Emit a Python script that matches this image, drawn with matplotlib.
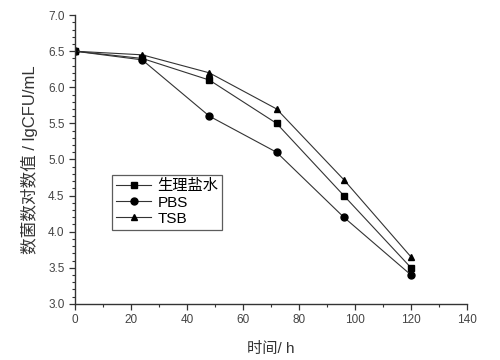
import matplotlib
matplotlib.use("Agg")
import matplotlib.pyplot as plt
from matplotlib.ticker import MultipleLocator

plt.rcParams['font.family'] = ['Liberation Sans', 'Noto Sans CJK SC', 'DejaVu Sans']

hours = [0, 24, 48, 72, 96, 120]
saline = [6.5, 6.40, 6.10, 5.50, 4.50, 3.50]
pbs = [6.5, 6.38, 5.60, 5.10, 4.20, 3.40]
tsb = [6.5, 6.45, 6.20, 5.70, 4.72, 3.65]

fig = plt.figure(figsize=(5, 3.6), dpi=100)
ax = fig.add_axes([0.15, 0.156, 0.784, 0.802])

line_kw = dict(color='#333333', lw=0.8, markersize=5, markerfacecolor='black', markeredgecolor='black')
ax.plot(hours, saline, marker='s', label='生理盐水', **line_kw)
ax.plot(hours, pbs, marker='o', label='PBS', **line_kw)
ax.plot(hours, tsb, marker='^', label='TSB', **line_kw)

ax.set_xlim(0, 140)
ax.set_ylim(3.0, 7.0)
ax.xaxis.set_major_locator(MultipleLocator(20))
ax.xaxis.set_minor_locator(MultipleLocator(10))
ax.yaxis.set_major_locator(MultipleLocator(0.5))
ax.yaxis.set_minor_locator(MultipleLocator(0.1))
ax.yaxis.set_major_formatter(plt.FormatStrFormatter('%.1f'))

for s in ['top', 'right']:
    ax.spines[s].set_visible(False)
for s in ['left', 'bottom']:
    ax.spines[s].set_color('#333333')
    ax.spines[s].set_linewidth(1.0)

ax.tick_params(which='major', direction='out', length=4, width=0.9, colors='#333333', labelsize=8.5, labelcolor='#444444')
ax.tick_params(which='minor', direction='out', length=2, width=0.8, colors='#333333')

ax.set_xlabel('时间/ h', fontsize=11, color='#333333', labelpad=11)
ax.set_ylabel('数菌数对数值 / lgCFU/mL', fontsize=12, color='#333333', labelpad=7)

leg = ax.legend(loc='upper left', bbox_to_anchor=(0.095, 0.445), fontsize=11, frameon=True,
                fancybox=False, edgecolor='#333333', handlelength=2.3, borderpad=0.25,
                labelspacing=0.15, handletextpad=0.4, borderaxespad=0)
leg.get_frame().set_linewidth(0.9)

fig.savefig('out.png', dpi=100)
